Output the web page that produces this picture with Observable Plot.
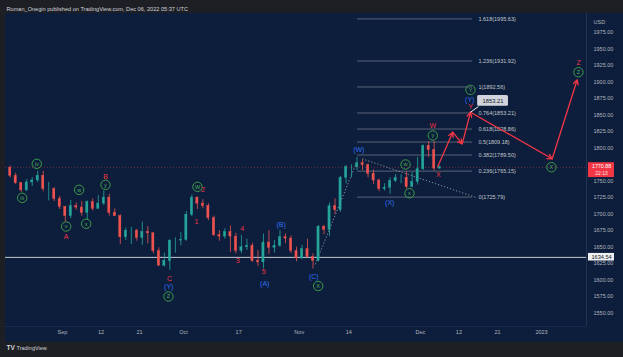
<!DOCTYPE html>
<html><head><meta charset="utf-8">
<script src="https://cdn.jsdelivr.net/npm/d3@7"></script>
<script src="https://cdn.jsdelivr.net/npm/@observablehq/plot@0.6"></script>
<style>
html,body{margin:0;padding:0;background:#1d1f25;width:623px;height:357px;overflow:hidden}
#bg{position:absolute;left:5px;top:13px;width:618px;height:329px;background:#0c1e3c}
#chart{position:absolute;left:0;top:0}
</style></head><body>
<div id="bg"></div><div id="chart"></div>
<script>
// Daily XAUUSD candles, trading-day index 0 = Aug 18 2022 ... 78 = Dec 6 2022
const opens  = [1770,1758,1747,1736,1748,1751,1758,1738,1738,1723,1711,1697,1712,1710,1702,1718,1708,1716,1725,1702,1697,1665,1675,1675,1664,1673,1671,1644,1622,1629,1660,1660,1661,1699,1725,1716,1712,1694,1668,1666,1673,1666,1644,1650,1652,1629,1627,1657,1649,1652,1665,1663,1644,1633,1647,1635,1629,1681,1676,1712,1706,1755,1771,1771,1777,1774,1761,1751,1738,1740,1750,1755,1755,1741,1749,1768,1803,1797,1769];
const highs  = [1773,1762,1748,1752,1755,1765,1765,1748,1740,1727,1712,1721,1717,1719,1720,1723,1728,1735,1730,1708,1699,1679,1680,1677,1688,1681,1672,1649,1641,1661,1664,1672,1704,1729,1726,1722,1716,1697,1675,1678,1682,1671,1668,1662,1656,1645,1670,1675,1660,1675,1670,1667,1650,1653,1662,1640,1683,1683,1717,1723,1757,1774,1775,1786,1782,1776,1767,1753,1746,1755,1760,1760,1764,1763,1786,1805,1810,1810,1773];
const lows   = [1755,1745,1733,1734,1742,1748,1734,1720,1719,1707,1688,1693,1706,1697,1691,1705,1708,1713,1697,1696,1654,1660,1654,1659,1653,1655,1640,1621,1620,1615,1641,1652,1659,1696,1707,1708,1690,1666,1659,1662,1642,1640,1640,1645,1627,1621,1617,1639,1641,1650,1655,1640,1628,1631,1634,1617,1628,1669,1666,1700,1703,1746,1755,1766,1766,1755,1745,1734,1735,1730,1748,1746,1738,1740,1744,1766,1786,1765,1768];
const closes = [1758,1747,1736,1748,1751,1758,1738,1738,1723,1711,1697,1712,1710,1702,1718,1708,1716,1725,1702,1697,1665,1675,1675,1664,1673,1671,1644,1622,1629,1660,1660,1661,1699,1725,1716,1712,1694,1668,1666,1673,1666,1644,1650,1652,1629,1627,1657,1649,1652,1665,1663,1644,1633,1647,1635,1629,1681,1676,1712,1706,1755,1771,1771,1777,1774,1761,1751,1738,1740,1750,1755,1755,1741,1749,1768,1803,1797,1769,1771];

const timeTickIdx    = [10,17,24,32,42,53,62,75,82,89,97];
const timeTickLabels = ["Sep","12","21","Oct","17","Nov","14","Dec","12","21","2023"];
// 1775.00 is hidden behind the last-price label in the reference
const priceTicks = [1550,1575,1600,1625,1650,1675,1700,1725,1750,1800,1825,1850,1875,1900,1925,1950,1975];

const fibRatios = ["1.618","1.236","1","0.764","0.618","0.5","0.382","0.236","0"];
const fibPrices = [1995.63,1931.92,1892.56,1853.21,1828.86,1809.18,1789.50,1765.15,1725.79];
const fibStart = 63.58, fibEnd = 84.46;

const greenText = ["iii","iv","v","w","x","y","W","Z","X","w","x","y","Y","X","Z"];
const greenIdx  = [2.68,5.33,10.67,13.03,14.3,17.81,34.52,29.25,56.44,72.3,73.02,77.25,84.1,98.8,103.7];
const greenPx   = [1724.7,1776.2,1681.3,1736.8,1685.4,1744.4,1741.4,1575.3,1591.2,1775.2,1731.7,1819.1,1888.2,1771.1,1914.9];

const redText = ["A","B","C","1","2","3","4","5","W","X","Y","Z"];
const redIdx  = [10.67,17.81,29.43,34.34,35.52,41.84,42.64,46.56,77.25,78.24,84.1,103.72];
const redPx   = [1665.1,1755.9,1602.1,1688.1,1736.5,1629.8,1677.8,1612.1,1833.7,1759.0,1863,1928.5];

const blueText = ["(Y)","(A)","(B)","(C)","(W)","(X)","(Y)"];
const blueIdx  = [29.3,46.74,49.72,55.64,63.81,69.44,83.97];
const bluePx   = [1589.4,1594.5,1684.3,1605.6,1797.9,1716.6,1873.1];

// projected path (red arrows)
const pathIdx = [78.16,80.88,82.6,84.1,98.94,103.48];
const pathPx  = [1772.1,1824.1,1806.5,1854.3,1783.8,1903.4];

// dotted trend lines
const trendA = {i1:64.43,p1:1783.8,i2:85.01,p2:1725.6};
const trendB = {i1:55.9,p1:1624,i2:63.3,p2:1776};

const lastPrice = 1770.88, hLine = 1634.54, calloutPrice = 1853.21;

const candles = opens.map((o,k)=>({i:k, open:o, high:highs[k], low:lows[k], close:closes[k]}));
const fibs = fibRatios.map((r,k)=>({r, p:fibPrices[k]}));
const green = greenText.map((t,k)=>({t,i:greenIdx[k],p:greenPx[k]}));
const red = redText.map((t,k)=>({t,i:redIdx[k],p:redPx[k]}));
const blue = blueText.map((t,k)=>({t,i:blueIdx[k],p:bluePx[k]}));
const segs = pathIdx.slice(1).map((v,k)=>({x1:pathIdx[k],y1:pathPx[k],x2:v,y2:pathPx[k+1]}));
const timeTicks = timeTickIdx.map((i,k)=>({i,label:timeTickLabels[k]}));

const xDomain = [-0.35, 105.17];
const yDomain = [1529.9, 2003.8];
const up = "#26a69a", down = "#ef5350";
const col = d => d.close >= d.open ? up : down;
const axisCol = "#b2b5be";
const F = "Liberation Sans, Arial, sans-serif";

const chart = Plot.plot({
  width:623, height:357, marginTop:13, marginLeft:5, marginRight:37, marginBottom:31,
  x:{domain:xDomain, axis:null},
  y:{domain:yDomain, axis:null},
  style:{background:"transparent", fontFamily:F, overflow:"visible"},
  marks:[
    Plot.ruleX([xDomain[1]], {stroke:"#22324f", strokeWidth:1}),
    Plot.ruleY([yDomain[0]], {stroke:"#1a2c4b", strokeWidth:1}),
    Plot.ruleY([lastPrice], {stroke:"#f23645", strokeOpacity:0.55, strokeDasharray:"1,2", strokeWidth:0.8}),
    Plot.ruleY([hLine], {stroke:"#c5c8cf", strokeWidth:1}),
    // fib retracement
    Plot.ruleY(fibs, {y:"p", x1:fibStart, x2:fibEnd, stroke:"#6f7585", strokeWidth:0.8}),
    Plot.text(fibs, {x:fibEnd, y:"p", text:d=>`${d.r}(${d.p.toFixed(2)})`, dx:6, textAnchor:"start", fontSize:5.5, fill:"#c3c6cc"}),
    // dotted lines
    Plot.link([trendA, trendB], {x1:"i1", y1:"p1", x2:"i2", y2:"p2", stroke:"#9aa0ad", strokeWidth:0.9, strokeDasharray:"1.2,2"}),
    // candles
    Plot.ruleX(candles, {x:d=>d.i+0.5, y1:"low", y2:"high", stroke:col, strokeWidth:0.8, clip:true}),
    Plot.rect(candles, {x1:d=>d.i+0.3, x2:d=>d.i+0.7, y1:"open", y2:"close", fill:col, stroke:col, strokeWidth:0.4, clip:true}),
    // projection arrows
    Plot.arrow(segs, {x1:"x1", y1:"y1", x2:"x2", y2:"y2", stroke:"#f23645", strokeWidth:1.3, headLength:6, headAngle:55}),
    // callout
    Plot.link([{x1:85.55,y1:1863,x2:84.1,y2:1854.3}], {x1:"x1",y1:"y1",x2:"x2",y2:"y2", stroke:"#e6e8ec", strokeWidth:1}),
    Plot.rect([{p:calloutPrice}], {x1:85.4, x2:91.0, y1:1863.2, y2:1879.6, fill:"#d1d4dc", rx:1.5}),
    Plot.text([{p:calloutPrice}], {x:88.2, y:1871.4, text:d=>d.p.toFixed(2), fontSize:5.8, fill:"#131722"}),
    // wave labels
    Plot.dot(green, {x:"i", y:"p", r:4.7, stroke:"#43a84a", strokeWidth:0.9, fill:"none"}),
    Plot.text(green, {x:"i", y:"p", text:"t", fill:"#4caf50", fontSize:5.5}),
    Plot.text(red, {x:"i", y:"p", text:"t", fill:"#f23645", fontSize:7}),
    Plot.text(blue, {x:"i", y:"p", text:"t", fill:"#3270f0", fontSize:7}),
    // price axis
    Plot.text(priceTicks, {y:d=>d, text:d=>d.toFixed(2), frameAnchor:"right", dx:7, textAnchor:"start", fontSize:5.5, fill:axisCol}),
    Plot.text(["USD"], {frameAnchor:"top-right", dx:7, dy:7, textAnchor:"start", fontSize:5.5, fill:axisCol}),
    // time axis
    Plot.text(timeTicks, {x:"i", text:"label", frameAnchor:"bottom", dy:7, fontSize:5.5, fill:axisCol}),
    // price labels on axis
    Plot.rect([{p:lastPrice}], {x1:105.53, x2:110.25, y1:d=>d.p-15.5, y2:d=>d.p+7, fill:"#f23645"}),
    Plot.text([{p:lastPrice}], {x:107.9, y:d=>d.p+1.5, text:d=>d.p.toFixed(2), fontSize:5.3, fill:"#ffffff"}),
    Plot.text([{p:lastPrice}], {x:107.9, y:d=>d.p-9.5, text:()=>"22:13", fontSize:5, fill:"#ffe2e4"}),
    Plot.rect([{p:hLine}], {x1:105.53, x2:110.25, y1:d=>d.p-5.5, y2:d=>d.p+6, fill:"#eef0f3"}),
    Plot.text([{p:hLine}], {x:107.9, y:d=>d.p, text:d=>d.p.toFixed(2), fontSize:5.6, fill:"#131722"}),
    // header & footer
    Plot.text(["Roman_Onegin published on TradingView.com, Dec 06, 2022 05:37 UTC"], {frameAnchor:"top-left", dx:1, dy:-6, textAnchor:"start", fontSize:5.6, fill:"#d1d4dc"}),
    Plot.text(["TV"], {frameAnchor:"bottom-left", dx:1, dy:23, textAnchor:"start", fontSize:6.5, fontWeight:"bold", fill:"#d1d4dc"}),
    Plot.text(["TradingView"], {frameAnchor:"bottom-left", dx:11, dy:23, textAnchor:"start", fontSize:5.5, fill:"#d1d4dc"})
  ]
});
document.getElementById("chart").appendChild(chart);
</script>
</body></html>
